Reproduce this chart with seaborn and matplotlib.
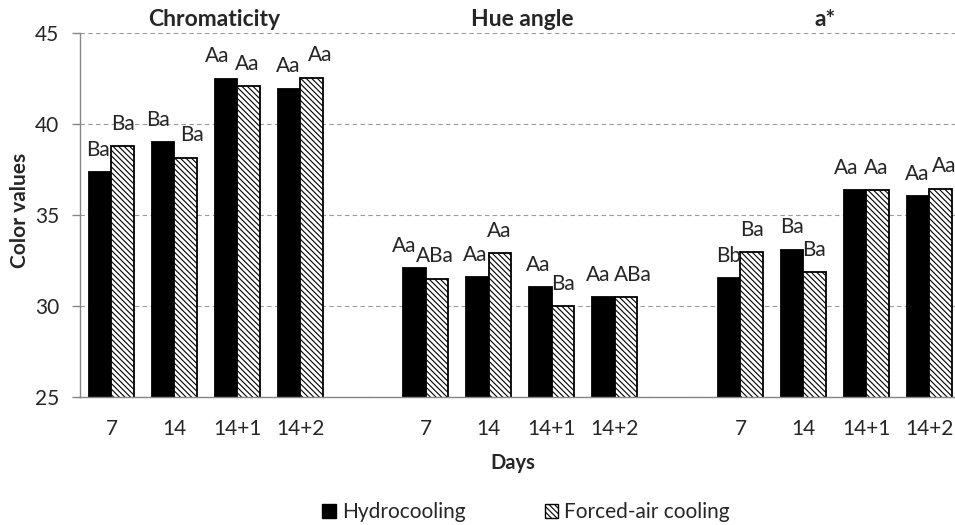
import numpy as np
import pandas as pd
import matplotlib
matplotlib.use("Agg")
import matplotlib.pyplot as plt
import seaborn as sns
from matplotlib.patches import Patch

# Data
days = ["7", "14", "14+1", "14+2"]
params = ["Chromaticity", "Hue angle", "a*"]
treatments = ["Hydrocooling", "Forced-air cooling"]

hydro_chroma = [37.35, 39.0, 42.5, 41.95]
forced_chroma = [38.8, 38.15, 42.1, 42.55]
hydro_hue = [32.1, 31.6, 31.05, 30.5]
forced_hue = [31.5, 32.9, 30.0, 30.5]
hydro_a = [31.55, 33.1, 36.35, 36.05]
forced_a = [32.95, 31.85, 36.35, 36.45]

# significance letters
hydro_chroma_lab = ["Ba", "Ba", "Aa", "Aa"]
forced_chroma_lab = ["Ba", "Ba", "Aa", "Aa"]
hydro_hue_lab = ["Aa", "Aa", "Aa", "Aa"]
forced_hue_lab = ["ABa", "Aa", "Ba", "ABa"]
hydro_a_lab = ["Bb", "Ba", "Aa", "Aa"]
forced_a_lab = ["Ba", "Ba", "Aa", "Aa"]

# sideways nudges of the letters (pixels), as they were placed in the original
hydro_dx = [-2, -5, -9, -1, -11, -2, -2, -5, -1, 0, -9, -1]
forced_dx = [0, 6, -1, 9, -2, -1, 0, 7, 0, -1, -1, 4]

series = [
    ("Chromaticity", hydro_chroma, forced_chroma, hydro_chroma_lab, forced_chroma_lab),
    ("Hue angle", hydro_hue, forced_hue, hydro_hue_lab, forced_hue_lab),
    ("a*", hydro_a, forced_a, hydro_a_lab, forced_a_lab),
]

rows = []
order = []
for k, (p, hv, fv, hl, fl) in enumerate(series):
    for d, h, f, a, b in zip(days, hv, fv, hl, fl):
        slot = p + "|" + d
        order.append(slot)
        rows.append({"slot": slot, "Treatment": treatments[0], "value": h, "letter": a})
        rows.append({"slot": slot, "Treatment": treatments[1], "value": f, "letter": b})
    if k < len(series) - 1:
        order.append("gap%d" % k)  # empty slot between groups
df = pd.DataFrame(rows)
bar_slots = [s for s in order if "|" in s]

sns.set_theme(style="white")
plt.rcParams["font.family"] = ["Lato", "DejaVu Sans"]
plt.rcParams["hatch.linewidth"] = 0.8
txt = "#262626"
gray = "#868686"
hatch = "\\" * 6

fig = plt.figure(figsize=(9.55, 5.25), dpi=100)
ax = fig.add_axes([80 / 955, 128 / 525, 880.6 / 955, 364 / 525])

sns.barplot(data=df, x="slot", y="value", hue="Treatment", order=order,
            hue_order=treatments, palette=["black", "white"], saturation=1,
            width=0.715, gap=0, edgecolor="black", linewidth=1.3,
            errorbar=None, legend=False, ax=ax)

for bar in ax.containers[1]:
    bar.set_hatch(hatch)

# letters above bars
lookup = df.set_index(["slot", "Treatment"])["letter"]
for cont, tr, nudges in zip(ax.containers, treatments, [hydro_dx, forced_dx]):
    for bar in cont:
        h = bar.get_height()
        if not np.isfinite(h):
            continue
        xc = bar.get_x() + bar.get_width() / 2
        slot = order[int(round(xc))]
        dx = nudges[bar_slots.index(slot)] * 0.72
        ax.annotate(lookup[(slot, tr)], (xc, h), xytext=(dx, 16),
                    textcoords="offset points", ha="center", va="center",
                    fontsize=15, color=txt)

ax.set_ylim(25, 45)
ax.set_xlim(-0.5, len(order) - 0.5)
ax.set_yticks([25, 30, 35, 40, 45])
ax.yaxis.grid(True, linestyle=(0, (4, 3)), color="#9a9a9a", linewidth=0.8)
ax.set_axisbelow(True)

ax.set_xticks(range(len(order)))
ax.set_xticklabels([s.split("|")[1] if "|" in s else "" for s in order])
ax.set_xticks(np.arange(-0.5, len(order)), minor=True)
ax.tick_params(axis="x", which="major", length=0, pad=16, labelsize=15, labelcolor=txt)
ax.tick_params(axis="x", which="minor", length=7, width=1, color=gray, direction="out")
ax.tick_params(axis="y", length=6, width=1, color=gray, direction="out", pad=9,
               labelsize=15, labelcolor=txt, left=True)
ax.set_xlabel("")
ax.set_ylabel("")

for s in ["top", "right"]:
    ax.spines[s].set_visible(False)
for s in ["left", "bottom"]:
    ax.spines[s].set_color(gray)
    ax.spines[s].set_linewidth(1)

# group titles
for name, xpix in zip(params, [214, 522, 825]):
    fig.text(xpix / 955, 1 - 19 / 525, name, ha="center", va="center",
             fontsize=16.5, fontweight="bold", color=txt)

fig.text(513 / 955, 1 - 463 / 525, "Days", ha="center", va="center",
         fontsize=14.5, fontweight="bold", color=txt)
fig.text(20 / 955, 1 - 210 / 525, "Color values", ha="center", va="center",
         rotation=90, fontsize=15, fontweight="bold", color=txt)

handles = [Patch(facecolor="black", edgecolor="black", label=treatments[0]),
           Patch(facecolor="white", edgecolor="black", hatch=hatch, label=treatments[1])]
fig.legend(handles=handles, loc="center", bbox_to_anchor=(526 / 955, 1 - 512 / 525),
           ncol=2, frameon=False, fontsize=15, handlelength=0.65, handleheight=0.65,
           handletextpad=0.3, columnspacing=3.8, labelcolor=txt)

fig.savefig("out.png", dpi=100)
